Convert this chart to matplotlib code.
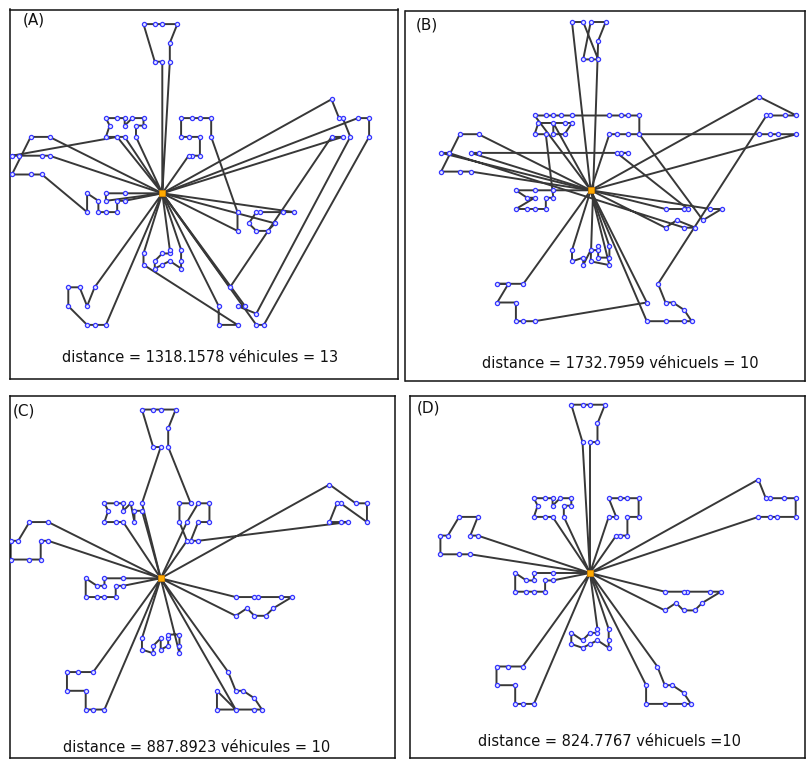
import matplotlib.pyplot as plt

# Solomon C101 instance: depot is customer 0
cust_x = [40, 45, 45, 42, 42, 42, 40, 40, 38, 38, 35, 35, 25, 22, 22, 20, 20, 18, 15, 15,
          30, 30, 28, 28, 25, 25, 25, 23, 23, 20, 20, 10, 10, 8, 8, 5, 5, 2, 0, 0,
          35, 35, 33, 33, 32, 30, 30, 30, 28, 28, 26, 25, 25, 44, 42, 42, 40, 40, 38, 38,
          35, 50, 50, 50, 48, 48, 47, 47, 45, 45, 95, 95, 53, 92, 53, 45, 90, 88, 88, 87,
          85, 85, 75, 72, 70, 68, 66, 65, 65, 63, 60, 60, 67, 65, 65, 62, 60, 60, 58, 55, 55]
cust_y = [50, 68, 70, 66, 68, 65, 69, 66, 68, 70, 66, 69, 85, 75, 85, 80, 85, 75, 75, 80,
          50, 52, 52, 55, 50, 52, 55, 52, 55, 50, 55, 35, 40, 40, 45, 35, 45, 40, 40, 45,
          30, 32, 32, 35, 30, 30, 32, 35, 30, 35, 32, 30, 35, 5, 10, 15, 5, 15, 5, 15,
          5, 30, 35, 40, 30, 40, 35, 40, 30, 35, 30, 35, 30, 30, 35, 65, 35, 30, 35, 30,
          25, 35, 55, 55, 58, 60, 55, 55, 60, 58, 55, 60, 85, 85, 82, 80, 80, 85, 75, 80, 85]

routes_a = [
    [55, 54, 53, 56, 58, 60, 59, 57],
    [43, 42, 41, 40, 44, 46, 45, 48, 51, 50, 52, 47],
    [49, 38, 37, 33, 32],
    [31, 35, 39, 36, 34, 30, 29, 27, 28, 26, 23, 22, 21],
    [20, 24, 25],
    [13, 15, 17, 18, 19, 16, 14, 12],
    [10, 11, 97, 100, 99],
    [5, 3, 7, 8, 9, 6, 4, 2, 1, 75],
    [82, 83, 86, 87, 89, 88, 85, 84],
    [67, 65, 63, 62, 66, 69, 68, 64, 61, 72, 74, 90, 91],
    [78, 81, 98],
    [80, 79, 77, 76, 94, 96, 95],
    [73, 70, 71, 92, 93],
]
routes_b = [
    [60, 58, 55, 57, 59, 56, 53, 54, 6, 2],
    [51, 48, 45, 44, 40, 68, 64, 61, 72, 74, 84, 82, 83],
    [33, 32, 63, 65, 67, 86, 87, 90],
    [80, 70, 73, 77, 79, 98, 96, 95, 94, 92, 93, 97, 100],
    [69, 66, 62, 81, 78, 76, 71],
    [13, 18, 17, 19, 15, 16, 14, 12, 99],
    [34, 36, 39, 35, 31],
    [38, 37, 88, 85, 89, 91],
    [20, 24, 29, 27, 25, 30, 28, 26, 23, 22, 21, 49, 52, 50, 42, 41, 43, 47, 46],
    [10, 11, 8, 9, 7, 3, 5, 4, 1, 75],
]
routes_c = [
    [32, 33, 34, 36, 39, 38, 37, 35, 31],
    [20, 24, 25, 27, 29, 30, 28, 26, 23, 22, 21],
    [13, 17, 18, 19, 15, 16, 14, 12],
    [98, 96, 95, 94, 92, 93, 100, 99, 97],
    [90, 87, 86, 83, 82, 84, 85, 88, 89, 91],
    [66, 61, 72, 74, 62, 65, 63, 76, 78, 81, 79, 77, 71, 70, 73, 80],
    [40, 57, 59, 60, 58, 56, 53, 54, 55, 64, 68, 69, 67],
    [10, 11, 9, 8, 7, 6, 4, 3, 5, 75, 1, 2],
    [41, 42, 43, 44, 46, 45, 48, 51, 50, 52, 49, 47],
]
routes_d = [
    [5, 3, 7, 8, 10, 11, 9, 6, 4, 2, 1, 75],
    [13, 17, 18, 19, 15, 16, 14, 12],
    [20, 24, 25, 27, 29, 30, 28, 26, 23, 22, 21],
    [32, 33, 31, 35, 37, 38, 39, 36, 34],
    [43, 42, 41, 40, 44, 46, 45, 48, 51, 50, 52, 49, 47],
    [57, 55, 54, 53, 56, 58, 60, 59],
    [67, 65, 63, 62, 74, 72, 61, 64, 68, 66, 69],
    [81, 78, 76, 71, 70, 73, 77, 79, 80],
    [90, 87, 86, 83, 82, 84, 85, 88, 89, 91],
    [98, 96, 95, 94, 92, 93, 97, 100, 99],
]

labels = ['(A)', '(B)', '(C)', '(D)']
captions = ['distance = 1318.1578 véhicules = 13',
            'distance = 1732.7959 véhicuels = 10',
            'distance = 887.8923 véhicules = 10',
            'distance = 824.7767 véhicuels =10']

W, H = 806, 760
fig = plt.figure(figsize=(W / 100, H / 100), dpi=100)

# frame (left, top, right, bottom) in pixels, depot pixel position, pixels per unit
layout = [
    dict(frame=(10, 9.5, 397.5, 379), depot=(162.3, 193.3), s=3.76,
         label=(34, 20), cap=(200, 358)),
    dict(frame=(405.5, 11, 805, 381), depot=(590.7, 190.3), s=3.74,
         label=(427, 25), cap=(620, 363)),
    dict(frame=(10, 396, 395, 758), depot=(160.7, 578.3), s=3.75,
         label=(24, 411), cap=(197, 747)),
    dict(frame=(410, 396, 805, 758), depot=(590, 573), s=3.74,
         label=(428, 408), cap=(610, 741)),
]
all_routes = [routes_a, routes_b, routes_c, routes_d]

for lay, routes, lab, cap in zip(layout, all_routes, labels, captions):
    L, T, R, B = lay['frame']
    dx, dy = lay['depot']
    s = lay['s']
    ax = fig.add_axes([L / W, 1 - B / H, (R - L) / W, (B - T) / H])
    ax.set_xlim(40 + (L - dx) / s, 40 + (R - dx) / s)
    ax.set_ylim(50 + (B - dy) / s, 50 + (T - dy) / s)
    ax.set_xticks([])
    ax.set_yticks([])
    for sp in ax.spines.values():
        sp.set_linewidth(1.1)
        sp.set_color('#111111')

    for r in routes:
        path = [0] + r + [0]
        ax.plot([cust_x[i] for i in path], [cust_y[i] for i in path],
                color='#383838', lw=1.4, zorder=2, solid_capstyle='round')
    ax.scatter(cust_x[1:], cust_y[1:], s=9, facecolor='#e4e6ff',
               edgecolor='#3535ff', linewidth=0.9, zorder=3)
    ax.scatter([cust_x[0]], [cust_y[0]], s=24, marker='s', color='#ffaa00',
               edgecolor='#d08000', linewidth=0.6, zorder=4)

    fig.text(lay['label'][0] / W, 1 - lay['label'][1] / H, lab,
             ha='center', va='center', fontsize=11, color='#111111')
    fig.text(lay['cap'][0] / W, 1 - lay['cap'][1] / H, cap,
             ha='center', va='center', fontsize=10.5, color='#111111')

fig.savefig('out.png', dpi=100)
